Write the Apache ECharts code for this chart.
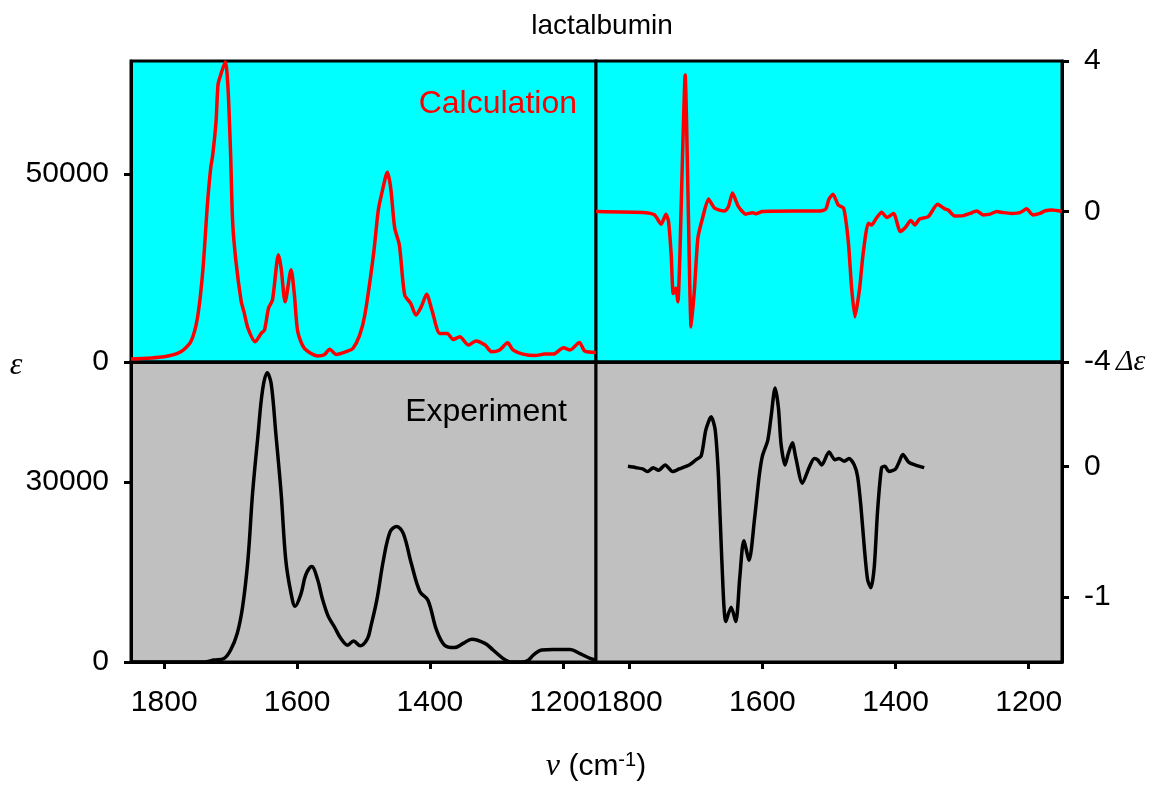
<!DOCTYPE html>
<html>
<head>
<meta charset="utf-8">
<script src="https://cdn.jsdelivr.net/npm/echarts@6/dist/echarts.min.js"></script>
<style>
html,body{margin:0;padding:0;background:#fff;}
#c{width:1160px;height:785px;}
</style>
</head>
<body>
<div id="c"></div>
<script>
// ---- data (wavenumber in cm-1) ----
const calcEpsWn = [1850,1800,1775,1760,1750,1742,1735,1730,1727,1722,1719,1715,1708,1704,1700,1697,1692,1684,1680,1674,1663,1654,1649,1643,1637,1628,1624,1618,1609,1604,1599,1589,1569,1559,1551,1541,1524,1516,1506,1498,1485,1478,1473,1464,1459,1453,1446,1438,1429,1421,1413,1405,1397,1385,1374,1365,1355,1342,1331,1317,1307,1295,1283,1275,1260,1242,1227,1214,1199,1189,1175,1167,1150];
const calcEps = [800,1400,2700,5400,11700,24000,41800,51600,55000,63900,73700,76300,79800,72900,55000,37300,26700,16000,13400,9000,5400,7600,8500,14300,16500,28500,25000,16000,24500,17800,8100,3600,1600,1900,3400,2000,2900,3600,7000,12500,28500,40000,44400,50400,46200,35600,31100,17800,15600,12500,14700,18000,13800,7600,7600,6000,6700,4500,5600,4500,2700,3200,5100,3200,2100,1700,2100,2100,3800,3200,5200,2900,2500];

const calcDeWn = [1850,1775,1762,1752,1745,1741,1737,1734,1730,1727,1724,1720,1716,1714,1711,1707,1702,1697,1690,1681,1672,1657,1651,1645,1636,1625,1615,1610,1600,1550,1515,1505,1500,1494,1486,1478,1471,1466,1461,1454,1449,1441,1436,1429,1421,1413,1403,1393,1386,1377,1371,1364,1351,1337,1326,1321,1311,1298,1288,1278,1268,1258,1248,1238,1226,1213,1203,1194,1183,1175,1165,1150];
const calcDe = [0,-0.03,-0.09,-0.34,-0.07,-0.27,-1.16,-2.18,-2.04,-2.4,-1.16,1.5,3.63,2.4,-0.27,-3.07,-2.04,-0.71,-0.18,0.33,0.09,0.01,0.13,0.49,0.13,-0.07,-0.03,-0.06,0,0.01,0.01,0.06,0.33,0.46,0.17,0.09,-0.8,-2.04,-2.8,-2.04,-1.16,-0.31,-0.36,-0.18,-0.02,-0.16,-0.05,-0.53,-0.44,-0.24,-0.36,-0.2,-0.14,0.19,0.07,0.04,-0.12,-0.11,-0.05,0.01,-0.09,-0.07,0,-0.03,-0.05,-0.03,0.07,-0.09,-0.05,0.02,0.04,0];

const expEpsWn = [1850,1740,1725,1710,1700,1690,1682,1674,1667,1659,1652,1645,1639,1632,1624,1617,1609,1603,1594,1587,1578,1569,1562,1553,1544,1534,1524,1515,1505,1494,1489,1480,1470,1460,1450,1440,1428,1415,1403,1390,1378,1363,1350,1337,1317,1305,1290,1278,1262,1252,1244,1232,1214,1189,1174,1159,1150];
const expEps = [0,0,330,600,2000,4800,9200,17000,28100,37600,45300,48200,46400,38100,28100,17000,11400,9300,11400,14500,15900,13700,10600,7600,5900,3900,2800,3500,2700,3900,5900,10300,17000,21700,22600,21400,16400,11700,10300,5300,2800,2400,3100,3800,3100,2000,600,0,0,300,1200,2000,2100,2100,1400,600,300];

const expDeWn = [1802,1790,1780,1772,1764,1756,1746,1735,1725,1710,1700,1692,1685,1677,1671,1666,1661,1655,1647,1640,1634,1628,1620,1612,1605,1600,1592,1587,1581,1576,1572,1566,1561,1555,1550,1540,1530,1522,1517,1511,1500,1491,1485,1477,1470,1462,1457,1452,1447,1442,1437,1432,1427,1421,1416,1410,1400,1395,1389,1380,1370,1357];
const expDe = [0,-0.01,-0.02,-0.04,-0.01,-0.03,0.01,-0.04,-0.02,0.01,0.05,0.08,0.28,0.38,0.28,-0.08,-0.72,-1.19,-1.08,-1.19,-0.85,-0.57,-0.72,-0.41,-0.08,0.08,0.2,0.38,0.6,0.45,0.17,0.01,0.1,0.18,0.07,-0.13,-0.01,0.06,0.05,0.01,0.11,0.05,0.06,0.04,0.06,0.01,-0.08,-0.31,-0.62,-0.87,-0.93,-0.77,-0.34,-0.01,0,-0.04,-0.02,0.03,0.09,0.03,0.01,-0.01];

const xTicks = [1800,1600,1400,1200];
const ticksTL = [0,50000];
const ticksBL = [0,30000];
const ticksTR = [-4,0,4];
const ticksBR = [-1,0];

function zip(a,b){return a.map((v,i)=>[v,b[i]]);}

const FONT = 'Liberation Sans, Arial, sans-serif';
const lab = {color:'#000', fontSize:30, fontFamily:FONT, formatter:(v)=>String(v)};
const grids = [
  {left:131, top:61, width:465, height:301, backgroundColor:'#00FFFF'},
  {left:596, top:61, width:466, height:301, backgroundColor:'#00FFFF'},
  {left:131, top:362, width:465, height:300, backgroundColor:'#C0C0C0'},
  {left:596, top:362, width:466, height:300, backgroundColor:'#C0C0C0'}
].map(g=>Object.assign({show:true, borderColor:'#000', borderWidth:3, containLabel:false}, g));

function xAx(i, showLab){
  return {
    type:'value', gridIndex:i, min:1150, max:1850, inverse:true,
    axisLine:{show:true, onZero:false, lineStyle:{color:'#000', width:3}},
    axisTick:{show:showLab, length:7, lineStyle:{color:'#000', width:3}, customValues:xTicks},
    axisLabel:{show:showLab, margin:26, customValues:xTicks, ...lab},
    splitLine:{show:false}
  };
}
function yAx(i, min, max, ticks, pos){
  return {
    type:'value', gridIndex:i, min:min, max:max, position:pos,
    axisLine:{show:true, onZero:false, lineStyle:{color:'#000', width:3}},
    axisTick:{show:true, length:7, lineStyle:{color:'#000', width:3}, customValues:ticks},
    axisLabel:{show:true, margin:22, customValues:ticks, ...lab},
    splitLine:{show:false}
  };
}

const option = {
  animation:false,
  backgroundColor:'#fff',
  grid: grids,
  xAxis:[xAx(0,false), xAx(1,false), xAx(2,true), xAx(3,true)],
  yAxis:[
    yAx(0,0,80000,ticksTL,'left'),
    yAx(1,-4,4,ticksTR,'right'),
    yAx(2,0,50000,ticksBL,'left'),
    yAx(3,-1.5,0.8,ticksBR,'right')
  ],
  series:[
    {type:'line', xAxisIndex:0, yAxisIndex:0, data:zip(calcEpsWn,calcEps), showSymbol:false, smooth:0.25, lineStyle:{color:'#FF0000', width:3.5}},
    {type:'line', xAxisIndex:1, yAxisIndex:1, data:zip(calcDeWn,calcDe), showSymbol:false, smooth:0.2, lineStyle:{color:'#FF0000', width:3.5}},
    {type:'line', xAxisIndex:2, yAxisIndex:2, data:zip(expEpsWn,expEps), showSymbol:false, smooth:0.35, lineStyle:{color:'#000', width:3.5}},
    {type:'line', xAxisIndex:3, yAxisIndex:3, data:zip(expDeWn,expDe), showSymbol:false, smooth:0.25, lineStyle:{color:'#000', width:3.5}}
  ],
  graphic:[
    {type:'text', x:602, y:26, style:{text:'lactalbumin', font:'28px '+FONT, fill:'#000', textAlign:'center', textVerticalAlign:'middle'}},
    {type:'text', x:577, y:104, style:{text:'Calculation', font:'32px '+FONT, fill:'#FF0000', textAlign:'right', textVerticalAlign:'middle'}},
    {type:'text', x:567, y:412, style:{text:'Experiment', font:'32px '+FONT, fill:'#000', textAlign:'right', textVerticalAlign:'middle'}},
    {type:'text', x:16, y:366, style:{text:'ε', font:'italic 32px Liberation Serif, serif', fill:'#000', textAlign:'center', textVerticalAlign:'middle'}},
    {type:'text', x:1116, y:362, style:{text:'Δε', font:'italic 30px Liberation Serif, serif', fill:'#000', textAlign:'left', textVerticalAlign:'middle'}},
    {type:'text', x:596, y:767, style:{
      text:'{i|ν}{n| (cm}{s|-1}{n|)}', textAlign:'center', textVerticalAlign:'middle',
      rich:{
        i:{font:'italic 32px Liberation Serif, serif', fill:'#000'},
        n:{font:'30px '+FONT, fill:'#000'},
        s:{font:'20px '+FONT, fill:'#000', verticalAlign:'top', padding:[0,0,14,0]}
      }}}
  ]
};
const chart = echarts.init(document.getElementById('c'));
chart.setOption(option);
</script>
</body>
</html>
